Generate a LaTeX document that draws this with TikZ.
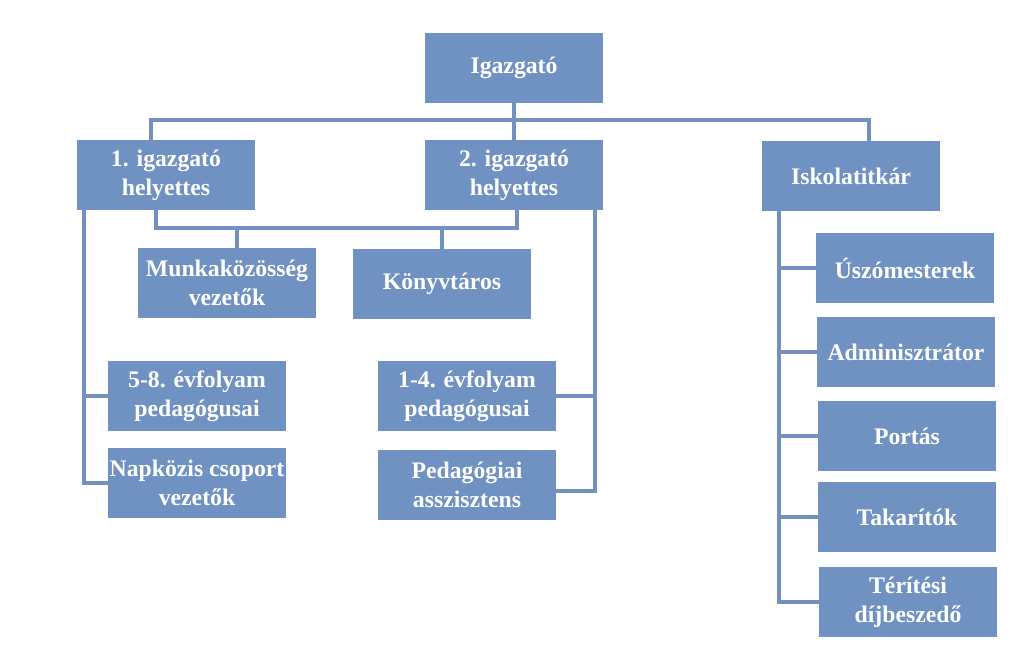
\documentclass[tikz,border=0pt]{standalone}
\usepackage{fontspec}
\setmainfont{Liberation Serif}
\usetikzlibrary{positioning}
\definecolor{boxblue}{HTML}{7092C2}
\definecolor{lineblue}{HTML}{7390BF}

\begin{document}
\begin{tikzpicture}[x=0.02cm,y=-0.02cm,
  font=\fontsize{13.5}{16.5}\selectfont\bfseries,
  unit/.style={fill=boxblue,text=white,minimum width=3.56cm,minimum height=1.4cm,align=center,inner xsep=0pt,inner ysep=2pt},
  link/.style={lineblue,line width=2.7pt}]
\useasboundingbox (0,0) rectangle (1024,649);
% top level
\node[unit] (igaz) at (514,68) {Igazgató};
\node[unit] (ig1) at (166,175) {1. igazgató\\helyettes};
\node[unit] (ig2) at (514,175) {2. igazgató\\helyettes};
\node[unit] (titkar) at (851,176) {Iskolatitkár};
% under the deputies
\node[unit] (munka) at (227,283) {Munkaközösség\\vezetők};
\node[unit] (konyv) at (442,284) {Könyvtáros};
\node[unit] (felso) at (197,396) {5-8. évfolyam\\pedagógusai};
\node[unit] (napk) at (197,483) {Napközis csoport\\vezetők};
\node[unit] (also) at (467,396) {1-4. évfolyam\\pedagógusai};
\node[unit] (asszi) at (467,485) {Pedagógiai\\asszisztens};
% under the secretary
\node[unit] (uszo) at (905,268) {Úszómesterek};
\node[unit] (admin) at (906,352) {Adminisztrátor};
\node[unit] (portas) at (907,436) {Portás};
\node[unit] (takar) at (907,517) {Takarítók};
\node[unit] (terit) at (908,602) {Térítési\\díjbeszedő};
% connectors
\coordinate (bus) at (514,120);
\coordinate (bus2) at (440,228);
\coordinate (lspine) at (84,0);
\coordinate (rspine) at (595,0);
\coordinate (tspine) at (779,0);
\draw[link] (igaz.south) -- (bus);
\draw[link] ([xshift=-0.3cm]ig1.north) |- (bus) -| ([xshift=0.36cm]titkar.north);
\draw[link] (bus) -- (ig2.north);
\draw[link] ([xshift=-0.2cm]ig1.south) |- (bus2) -| ([xshift=0.06cm]ig2.south);
\draw[link] ([xshift=0.2cm]munka.north) -- ++(0,-20);
\draw[link] (konyv.north |- bus2) -- (konyv.north);
\draw[link] (lspine |- ig1.south) |- (napk.west);
\draw[link] (felso.west) -- (felso.west -| lspine);
\draw[link] (rspine |- ig2.south) |- ([yshift=-0.12cm]asszi.east);
\draw[link] (also.east) -- (also.east -| rspine);
\draw[link] (tspine |- titkar.south) |- (terit.west);
\foreach \n in {uszo,admin,portas,takar}
  \draw[link] (\n.west) -- (\n.west -| tspine);
\end{tikzpicture}
\end{document}
